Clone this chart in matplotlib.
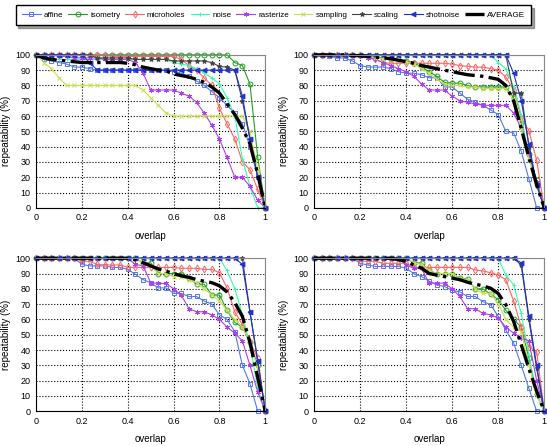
import matplotlib
matplotlib.use('Agg')
import matplotlib.pyplot as plt

plt.rcParams['font.family'] = ['Liberation Sans', 'DejaVu Sans']

overlap = [0, .033, .067, .1, .133, .167, .2, .233, .267, .3, .333, .367, .4, .433, .467, .5,
           .533, .567, .6, .633, .667, .7, .733, .767, .8, .833, .867, .9, .933, .967, 1]

names = ['affine', 'isometry', 'microholes', 'noise', 'rasterize', 'sampling', 'scaling', 'shotnoise']

# top left
affine_tl = [100,97,96,95,94,92,92,91,90,90,90,90,90,90,90,90,90,90,89,88,86,83,80,76,72,67,62,55,40,20,0]
isometry_tl = [100,100,100,100,100,100,100,100,100,100,100,100,100,100,100,100,100,100,100,100,100,100,100,100,100,100,95,93,81,33,0]
microholes_tl = [100,100,100,100,100,100,100,100,100,100,99,99,99,99,99,99,99,99,99,97,93,90,85,80,65,55,45,30,25,12,0]
noise_tl = [100,97,97,97,97,97,97,97,97,97,97,97,97,97,97,97,97,97,95,94,93,91,88,85,81,72,60,32,14,0,0]
rasterize_tl = [100,100,100,99,99,98,98,98,98,97,97,97,97,95,88,77,77,77,77,75,73,69,62,54,45,33,20,20,14,5,0]
sampling_tl = [100,95,91,85,80,80,80,80,80,80,80,80,80,80,77,72,67,62,60,60,60,60,60,60,60,60,60,60,50,25,0]
scaling_tl = [100,100,100,100,100,100,100,100,98,98,98,98,98,97,97,97,97,97,96,96,96,96,96,95,92.4,92,90,70,45,20,0]
shotnoise_tl = [100,100,100,100,100,100,100,95,90,90,90,90,90,90,90,90,90,90,90,90,90,90,90,90,90,90,90,73,45,20,0]
average_tl = [100,98,97,96.5,96,95.5,95,95,95,95,95,95,94.5,93.5,92,91,90,89.5,87.5,86.5,85.5,84,82,79,75,68,61,52,42,22,0]

# top right
affine_tr = [100,100,99,98,98,96,93,92,92,92,91,89,88,88,87,85,85,79,79,75,71,69,67,64,61,50,49,37,19,0,0]
isometry_tr = [100,100,100,100,100,100,100,99,98.5,98,97.5,97,96,95,92,89,86,82,81.5,81.5,80,79,79,79,79,79,72,55,35,18,0]
microholes_tr = [100,100,100,100,100,100,100,99,97,95,94.5,94.5,94.5,94.5,94.5,94.5,94.5,94.5,94,93,92.5,92,92,91,90,85.5,77,59,50.5,31,0]
noise_tr = [100,100,100,100,100,100,100,100,100,100,100,100,100,100,100,100,100,100,100,100,100,100,100,100,95,91,79,61,32,16,0]
rasterize_tr = [100,100,100,100,100,100,99,98,97,95,93,91,89,86,81,77,77,77,73,70,69,68,67,67,67,67,62,52,35,17,0]
sampling_tr = [100,100,100,100,100,100,100,99,98,97.5,97,96.5,95.5,94,91,88,84,81,80,80,79,79,78,78,78,78,70,52,32,15,0]
scaling_tr = [100,100,100,100,100,100,100,100,100,100,100,100,100,100,100,100,100,100,100,100,100,100,100,100,100,100,75,75,40,15,0]
shotnoise_tr = [100,100,100,100,100,100,100,100,100,100,100,100,100,100,100,100,100,100,100,100,100,100,100,100,100,100,88,70,42,15,0]
average_tr = [100,100,100,100,100,99.5,99.5,99,98.5,98,97.5,96.5,95.5,94.5,93,92,91,90,89,88,87,86.5,86,85,84,80,70,52,33,15,0]

# bottom left
affine_bl = [100,100,100,100,100,100,96,95,95,95,94,94,92.7,89.5,86,84,80.6,80.6,77,77,75,75,72,70,63,60,52,30,18,0,0]
isometry_bl = [100,100,100,100,100,100,100,100,100,100,100,100,100,100,97,97,90,90,90,90,87,83,83,76,76,66,58,55,45,30,0]
microholes_bl = [100,100,100,100,100,100,98,98,96,95.6,95.6,95.6,94,94,94,94,94,94,94,93.4,93.4,93.4,92.7,92.7,90.5,80.6,65,56.5,45.5,34.5,0]
noise_bl = [100,100,100,100,100,100,100,100,100,100,100,100,100,100,100,100,100,100,100,100,100,100,100,100,100,92,80,63,43,15,0]
rasterize_bl = [100,100,100,100,100,100,100,100,100,100,100,100,100,96,95,84,83.5,83.5,80,76,67,65,65,63,60,55,51,46,30,12.5,0]
sampling_bl = [100,100,100,100,100,100,100,100,100,100,100,100,100,100,97,95,90,90,88,88,86,84,80,76,72,66,60,55,45,28,0]
scaling_bl = [100,100,100,100,100,100,100,100,100,100,100,100,100,100,100,100,100,100,100,100,100,100,100,100,100,100,100,100,65,33,0]
shotnoise_bl = [100,100,100,100,100,100,100,100,100,100,100,100,100,100,100,100,100,100,100,100,100,100,100,100,100,100,100,96,65,33,0]
average_bl = [100,100,100,100,100,100,100,100,100,100,100,100,100,99,97,95,93,91.5,90,88.5,87.5,86,85,84,82,78,71,62,45,22,0]

# bottom right
affine_br = [100,100,100,100,100,100,96.7,95.6,94.6,94.6,94.6,94.6,93.5,90,88,85,82.6,81.5,79,78,75,75,71.7,69.6,62,53,44.6,30,15,0,0]
isometry_br = [100,100,100,100,100,100,100,100,100,100,100,100,100,97,97,92,90,90,90,87,86.5,80,80,76.5,73,66,60,55,35,11,0]
microholes_br = [100,100,100,100,100,100,98,98,98,96.7,96.7,96.7,96.7,94,94,94,94,94,94,94,94,92.4,91.7,90.5,89,86,72,55,42,39,0]
noise_br = [100,100,100,100,100,100,100,100,100,100,100,100,100,100,100,100,100,100,100,100,100,100,100,100,100,89,82.6,64,37,11,0]
rasterize_br = [100,100,100,100,100,100,100,100,100,100,100,100,95.6,93.5,93.5,83.7,83.7,83.7,80,75,67,67,64,63,61,55,51,48,46,20,0]
sampling_br = [100,100,100,100,100,100,100,100,100,100,100,100,100,97,96,92,90,90,90,87,86,80,77,77,70,60,55,52,30,10,0]
scaling_br = [100,100,100,100,100,100,100,100,100,100,100,100,100,100,100,100,100,100,100,100,100,100,100,100,100,100,100,95.6,60,28,0]
shotnoise_br = [100,100,100,100,100,100,100,100,100,100,100,100,100,100,100,100,100,100,100,100,100,100,100,100,100,100,100,97,62,30,0]
average_br = [100,100,100,100,100,100,100,100,100,100,100,99,98,95.6,93.5,90,89,88,87,86,84.3,83,82,80.4,77,69.6,58.7,43.5,28,13,0]

panels = [
    [affine_tl, isometry_tl, microholes_tl, noise_tl, rasterize_tl, sampling_tl, scaling_tl, shotnoise_tl, average_tl],
    [affine_tr, isometry_tr, microholes_tr, noise_tr, rasterize_tr, sampling_tr, scaling_tr, shotnoise_tr, average_tr],
    [affine_bl, isometry_bl, microholes_bl, noise_bl, rasterize_bl, sampling_bl, scaling_bl, shotnoise_bl, average_bl],
    [affine_br, isometry_br, microholes_br, noise_br, rasterize_br, sampling_br, scaling_br, shotnoise_br, average_br],
]

colors = ['#5577ee', '#22a022', '#ff6666', '#33ffaa', '#b040ee', '#ccdd55', '#444444', '#1f33cc']
markers = ['s', 'o', 'd', '+', (6, 2, 0), 'x', '*', '<']
filled = [False, False, False, True, True, True, True, True]

fig = plt.figure(figsize=(5.47, 4.46), dpi=100)
pos = [[0.066, 0.534, 0.419, 0.343], [0.574, 0.534, 0.421, 0.343],
       [0.066, 0.078, 0.419, 0.343], [0.574, 0.078, 0.421, 0.343]]

for n, p in enumerate(pos):
    series = panels[n]
    ax = fig.add_axes(p)
    for k in range(8):
        ax.plot(overlap, series[k], color=colors[k], marker=markers[k], markersize=3.5,
                linewidth=0.8, markeredgewidth=0.7, clip_on=False,
                markerfacecolor=colors[k] if filled[k] else 'none', label=names[k])
    ax.plot(overlap, series[8], color='black', linestyle='-.', linewidth=2.4,
            clip_on=False, label='AVERAGE')
    ax.set_xlim(0, 1)
    ax.set_ylim(0, 100)
    ax.set_xticks([0, 0.2, 0.4, 0.6, 0.8, 1])
    ax.set_xticklabels(['0', '0.2', '0.4', '0.6', '0.8', '1'])
    ax.set_yticks(range(0, 101, 10))
    ax.grid(True, linestyle=':', color='black', linewidth=0.8)
    ax.tick_params(length=0, labelsize=6.5, pad=4)
    ax.spines['top'].set_color('#888888')
    ax.spines['right'].set_color('#888888')
    ax.set_xlabel('overlap', fontsize=7, labelpad=6)
    ax.set_ylabel('repeatability (%)', fontsize=7, labelpad=3)
    if n == 0:
        handles, labels = ax.get_legend_handles_labels()

fig.legend(handles, labels, loc='upper center', bbox_to_anchor=(0.5, 0.998), ncol=9,
           fontsize=5.8, frameon=True, fancybox=False, shadow=True, edgecolor='black',
           handlelength=2.3, handletextpad=0.4, columnspacing=0.62, borderpad=0.8)

fig.savefig('out.png', dpi=100)
